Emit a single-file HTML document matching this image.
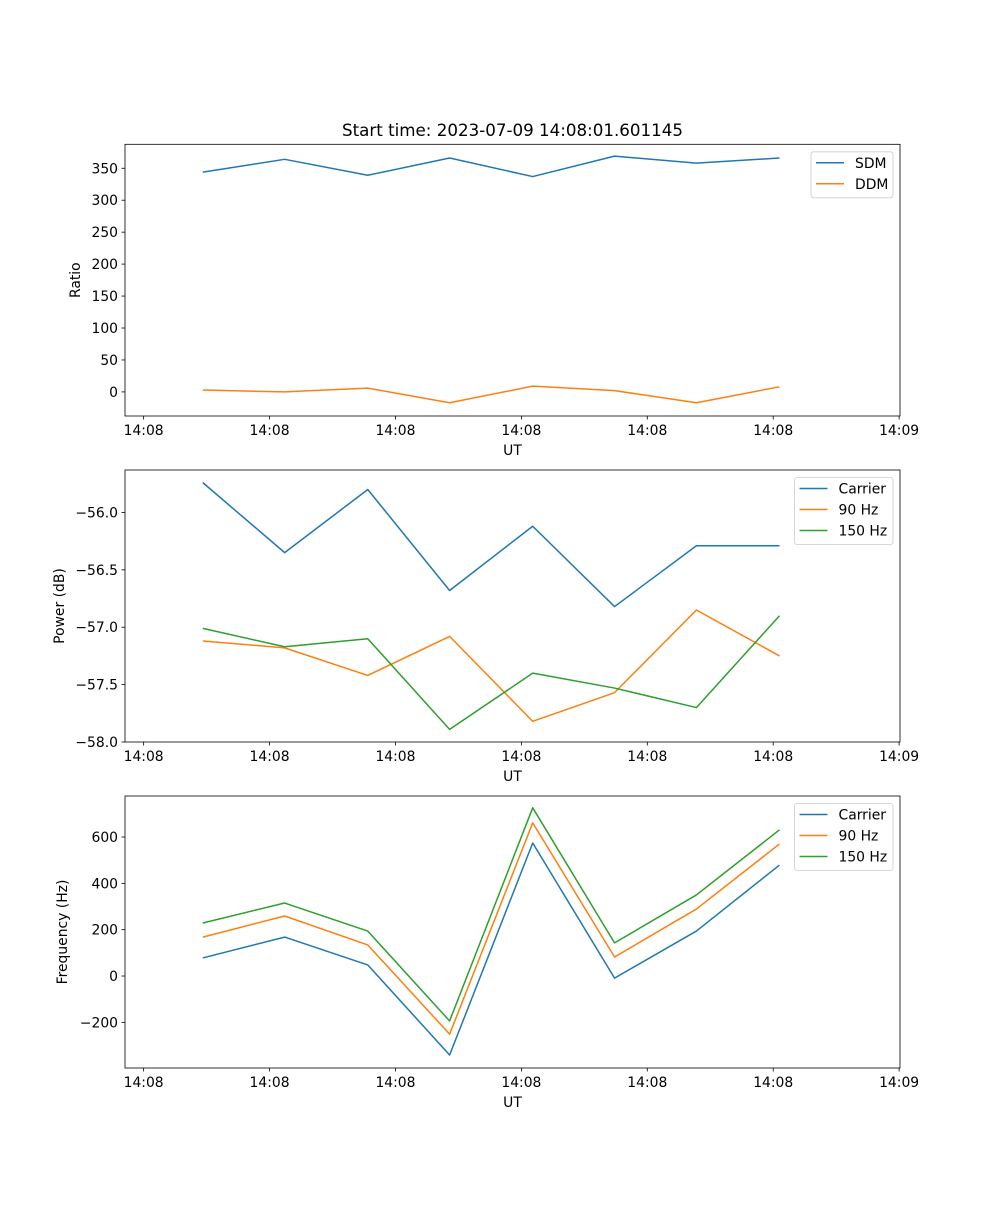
<!DOCTYPE html>
<html><head><meta charset="utf-8"><style>
html,body{margin:0;padding:0;background:#fff;}
svg text{font-family:"DejaVu Sans","Liberation Sans",sans-serif;fill:#000;}
</style></head><body>
<svg id="fig" width="1000" height="1200" xmlns="http://www.w3.org/2000/svg">
<rect width="1000" height="1200" fill="#fff"/>
<text x="512.5" y="136" font-size="16.7" text-anchor="middle">Start time: 2023-07-09 14:08:01.601145</text>
</svg>
<script>
// data (seconds after 14:08:00)
const times = [4.7, 11.2, 17.8, 24.3, 30.9, 37.4, 43.9, 50.5];
const xTickVals = [0, 10, 20, 30, 40, 50, 60];
const xTickLabels = ["14:08","14:08","14:08","14:08","14:08","14:08","14:09"];
const sdm = [344, 364, 339, 366, 337, 369, 358, 366];
const ddm = [3, 0, 6, -17, 9, 2, -17, 8];
const ratioTicks = [0, 50, 100, 150, 200, 250, 300, 350];
const powCarrier = [-55.74, -56.35, -55.80, -56.68, -56.12, -56.82, -56.29, -56.29];
const pow90 = [-57.12, -57.18, -57.42, -57.08, -57.82, -57.57, -56.85, -57.25];
const pow150 = [-57.01, -57.17, -57.10, -57.89, -57.40, -57.53, -57.70, -56.90];
const powTicks = [-56.0, -56.5, -57.0, -57.5, -58.0];
const freqCarrier = [78, 168, 48, -341, 574, -9, 194, 479];
const freq90 = [168, 259, 134, -251, 661, 82, 289, 570];
const freq150 = [229, 315, 194, -194, 726, 143, 350, 631];
const freqTicks = [-200, 0, 200, 400, 600];

const NS = "http://www.w3.org/2000/svg";
const svg = document.getElementById('fig');
const C = {blue:"#1f77b4", orange:"#ff7f0e", green:"#2ca02c"};
const L = 125, R = 900;
const xMin = -1.48, xMax = 60.07;
function xs(t){ return L + (t - xMin) / (xMax - xMin) * (R - L); }
function mk(tag, attrs, parent){ const e = document.createElementNS(NS, tag); for (const k in attrs) e.setAttribute(k, attrs[k]); (parent||svg).appendChild(e); return e; }

function panel(cfg){
  const g = mk('g', {});
  
  
  const ys = v => cfg.top + (cfg.yMax - v) / (cfg.yMax - cfg.yMin) * (cfg.bottom - cfg.top);
  // series
  cfg.series.forEach(s => {
    const pts = s.vals.map((v,i) => xs(times[i]).toFixed(2) + ',' + ys(v).toFixed(2)).join(' ');
    const pl = mk('polyline', {points: pts, fill:'none', stroke: s.color, 'stroke-width':1.5, 'stroke-linejoin':'round'}, g);
    
    
  });
  // frame
  const fr = mk('rect', {x:L, y:cfg.top, width:R-L, height:cfg.bottom-cfg.top, fill:'none', stroke:'#000', 'stroke-width':0.8}, g);
  
  
  // x ticks
  xTickVals.forEach((t,i) => {
    const x = xs(t);
    mk('line', {x1:x, x2:x, y1:cfg.bottom, y2:cfg.bottom+3.5, stroke:'#000', 'stroke-width':0.8}, g);
    const tx = mk('text', {x:x, y:cfg.bottom+19, 'font-size':13.9, 'text-anchor':'middle'}, g);
    tx.textContent = xTickLabels[i];
    
    
  });
  const xl = mk('text', {x:512.5, y:cfg.bottom+39, 'font-size':13.9, 'text-anchor':'middle'}, g);
  xl.textContent = 'UT';
  
  
  // y ticks
  cfg.ticks.forEach(v => {
    const y = ys(v);
    mk('line', {x1:L-3.5, x2:L, y1:y, y2:y, stroke:'#000', 'stroke-width':0.8}, g);
    const tx = mk('text', {x:L-7, y:y+5, 'font-size':13.9, 'text-anchor':'end'}, g);
    tx.textContent = cfg.fmt(v);
    
    
  });
  const yc = (cfg.top + cfg.bottom) / 2;
  const yl = mk('text', {x:cfg.ylx, y:yc, 'font-size':13.9, 'text-anchor':'middle', transform:'rotate(-90 '+cfg.ylx+' '+yc+')'}, g);
  yl.textContent = cfg.ylabel;
  
  
  // legend
  const lg = mk('g', {}, g);
  
  
  const lx = cfg.legX, ly = cfg.top + 7.5;
  mk('rect', {x:lx, y:ly, width:893-lx, height:cfg.series.length*21+4, rx:2.5, fill:'#fff', 'fill-opacity':0.8, stroke:'#ccc', 'stroke-width':0.8}, lg);
  cfg.series.forEach((s,i) => {
    const yy = ly + 11 + i*21;
    const ln = mk('line', {x1:lx+5, x2:lx+33, y1:yy, y2:yy, stroke:s.color, 'stroke-width':1.5}, lg);
    
    
    const t = mk('text', {x:lx+44, y:yy+5, 'font-size':13.9}, lg);
    t.textContent = s.label;
    
    
  });
}
const minus = s => s.replace('-', '\u2212');
panel({name:'ratio-panel', top:144.3, bottom:416, yMin:-37.7, yMax:387.5, ticks:ratioTicks, fmt:v=>minus(String(v)), ylabel:'Ratio', ylx:80, legX:811,
  series:[{id:'sdm', label:'SDM', vals:sdm, color:C.blue},{id:'ddm', label:'DDM', vals:ddm, color:C.orange}]});
panel({name:'power-panel', top:470, bottom:742, yMin:-58.0, yMax:-55.63, ticks:powTicks, fmt:v=>minus(v.toFixed(1)), ylabel:'Power (dB)', ylx:64, legX:794.5,
  series:[{id:'power-carrier', label:'Carrier', vals:powCarrier, color:C.blue},{id:'power-90hz', label:'90 Hz', vals:pow90, color:C.orange},{id:'power-150hz', label:'150 Hz', vals:pow150, color:C.green}]});
panel({name:'frequency-panel', top:796, bottom:1068, yMin:-397, yMax:777, ticks:freqTicks, fmt:v=>minus(String(v)), ylabel:'Frequency (Hz)', ylx:67, legX:794.5,
  series:[{id:'freq-carrier', label:'Carrier', vals:freqCarrier, color:C.blue},{id:'freq-90hz', label:'90 Hz', vals:freq90, color:C.orange},{id:'freq-150hz', label:'150 Hz', vals:freq150, color:C.green}]});
</script>
</body></html>
